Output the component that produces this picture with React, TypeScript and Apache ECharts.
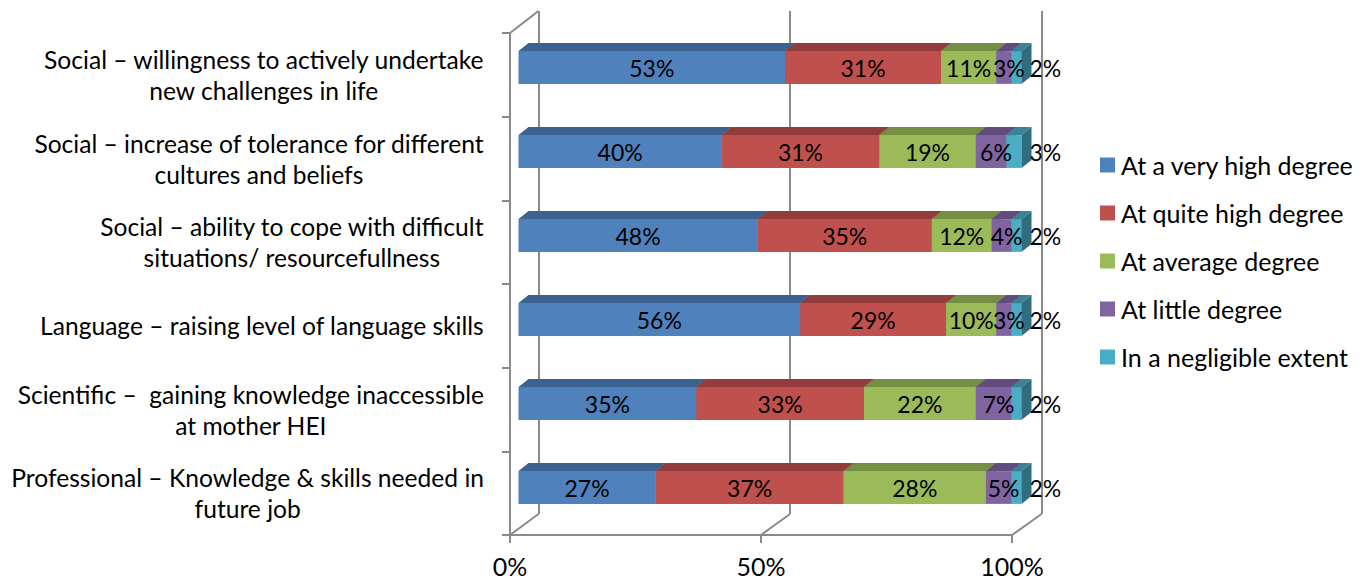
import React, { useEffect, useRef } from 'react';
import * as echarts from 'echarts';

const categories = [
  'Social – willingness to actively undertake\nnew challenges in life',
  'Social – increase of tolerance for different\ncultures and beliefs',
  'Social – ability to cope with difficult\nsituations/ resourcefullness',
  'Language – raising level of language skills',
  'Scientific –  gaining knowledge inaccessible\nat mother HEI',
  'Professional – Knowledge & skills needed in\nfuture job',
];
const seriesNames = [
  'At a very high degree',
  'At quite high degree',
  'At average degree',
  'At little degree',
  'In a negligible extent',
];
const veryHigh = [53, 40, 48, 56, 35, 27];
const quiteHigh = [31, 31, 35, 29, 33, 37];
const average = [11, 19, 12, 10, 22, 28];
const little = [3, 6, 4, 3, 7, 5];
const negligible = [2, 3, 2, 2, 2, 2];
const xTicks = [0, 50, 100];

const COLORS = ['#4F81BD', '#C0504D', '#9BBB59', '#8064A2', '#4BACC6'];
const GRAY = '#8A8A8A';
const FONT = 'Lato';
const FS = 25;
const CAT_FS = 24.6;
const LABEL_FS = 23;

const FRONT = { left: 510, top: 33, width: 502, height: 502 };
const BACK = { left: 538.5, top: 11, width: 503, height: 503 };
const BAR = { left: 518.5, top: 25.5, width: 503, height: 504 };
const BAR_RATIO = 0.39;
const DX = 10;
const DY = 8;

function shade(hex: string, f: number) {
  const n = parseInt(hex.slice(1), 16);
  const r = Math.round(((n >> 16) & 255) * f);
  const g = Math.round(((n >> 8) & 255) * f);
  const b = Math.round((n & 255) * f);
  return `rgb(${r},${g},${b})`;
}

export default function App() {
  const ref = useRef<HTMLDivElement>(null);
  useEffect(() => {
    document.body.style.margin = '0';
    const chart = echarts.init(ref.current!, null, { renderer: 'svg' });
    const all = [veryHigh, quiteHigh, average, little, negligible];
    const sums = categories.map((_, i) => all.reduce((s, arr) => s + arr[i], 0));
    const cum = categories.map(() => 0);
    const last = all.length - 1;

    const series = all.map((arr, k) => {
      const data = arr.map((v, i) => {
        const share = (v / sums[i]) * 100;
        const start = cum[i];
        cum[i] += share;
        return [start, start + share, i, v];
      });
      return {
        type: 'custom',
        name: seriesNames[k],
        xAxisIndex: 0,
        yAxisIndex: 0,
        itemStyle: { color: COLORS[k] },
        encode: { x: [0, 1], y: 2 },
        data,
        renderItem: (params: any, api: any) => {
          const s = api.coord([api.value(0), api.value(2)]);
          const e = api.coord([api.value(1), api.value(2)]);
          const band = api.size([0, 1])[1];
          const h = band * BAR_RATIO;
          const x0 = s[0];
          const x1 = e[0];
          const y0 = s[1] - h / 2;
          const isLast = params.seriesIndex === last;
          return {
            type: 'group',
            children: [
              {
                type: 'rect',
                shape: { x: x0, y: y0, width: x1 - x0, height: h },
                style: { fill: COLORS[k] },
              },
              {
                type: 'polygon',
                shape: { points: [[x0, y0], [x0 + DX, y0 - DY], [x1 + DX, y0 - DY], [x1, y0]] },
                style: { fill: shade(COLORS[k], 0.76) },
              },
              {
                type: 'polygon',
                shape: { points: [[x1, y0], [x1 + DX, y0 - DY], [x1 + DX, y0 + h - DY], [x1, y0 + h]] },
                style: { fill: shade(COLORS[k], 0.64) },
              },
              {
                type: 'text',
                z2: 100,
                x: isLast ? x1 + 8 : (x0 + x1) / 2 + (params.seriesIndex === last - 1 ? 5 : 0),
                y: y0 + h / 2,
                style: {
                  text: api.value(3) + '%',
                  fill: '#000',
                  font: `${LABEL_FS}px ${FONT}`,
                  textAlign: isLast ? 'left' : 'center',
                  textVerticalAlign: 'middle',
                },
              },
            ],
          };
        },
      };
    });

    const diag: any[] = [
      {
        type: 'line',
        shape: { x1: FRONT.left, y1: FRONT.top, x2: BACK.left, y2: BACK.top },
        style: { stroke: GRAY, lineWidth: 2 },
      },
      ...xTicks.map((t) => ({
        type: 'line',
        shape: {
          x1: FRONT.left + (FRONT.width * t) / 100,
          y1: FRONT.top + FRONT.height,
          x2: BACK.left + (BACK.width * t) / 100,
          y2: BACK.top + BACK.height,
        },
        style: { stroke: GRAY, lineWidth: 2 },
      })),
    ];

    const option: any = {
      animation: false,
      grid: [
        { ...BAR, containLabel: false },
        { ...BACK, containLabel: false },
        { ...FRONT, containLabel: false },
      ],
      xAxis: [
        { gridIndex: 0, type: 'value', min: 0, max: 100, show: false },
        {
          gridIndex: 1, type: 'value', min: 0, max: 100, interval: 50,
          axisLine: { show: false }, axisTick: { show: false }, axisLabel: { show: false },
          splitLine: { show: true, lineStyle: { color: GRAY, width: 2 } },
        },
        {
          gridIndex: 2, type: 'value', min: 0, max: 100, interval: 50,
          axisLine: { show: true, lineStyle: { color: GRAY, width: 2 } },
          axisTick: { show: true, length: 8, lineStyle: { color: GRAY, width: 2 } },
          axisLabel: {
            formatter: '{value}%', margin: 20, fontSize: FS, fontFamily: FONT, color: '#000', lineHeight: 22,
          },
          splitLine: { show: false },
        },
      ],
      yAxis: [
        { gridIndex: 0, type: 'category', data: categories, inverse: true, show: false },
        { gridIndex: 1, type: 'value', show: false, splitLine: { show: false } },
        {
          gridIndex: 2, type: 'category', data: categories, inverse: true,
          axisLine: { show: true, lineStyle: { color: GRAY, width: 2 } },
          axisTick: { show: true, length: 8, lineStyle: { color: GRAY, width: 2 } },
          splitLine: { show: false },
          axisLabel: {
            interval: 0,
            margin: 26,
            formatter: (v: string) => v.split('\n').map((l) => `{c|${l}}`).join('\n'),
            rich: { c: { fontSize: CAT_FS, fontFamily: FONT, color: '#000', lineHeight: 31, align: 'center' } },
          },
        },
      ],
      legend: {
        orient: 'vertical',
        left: 1100,
        top: 150,
        padding: 0,
        itemWidth: 15,
        itemHeight: 15,
        itemGap: 18,
        icon: 'rect',
        data: seriesNames,
        textStyle: { fontSize: FS, fontFamily: FONT, color: '#000', lineHeight: 30, padding: [0, 0, 0, 1] },
      },
      graphic: diag,
      series,
    };
    chart.setOption(option);
    return () => chart.dispose();
  }, []);
  return <div ref={ref} style={{ width: 1365, height: 582 }} />;
}
